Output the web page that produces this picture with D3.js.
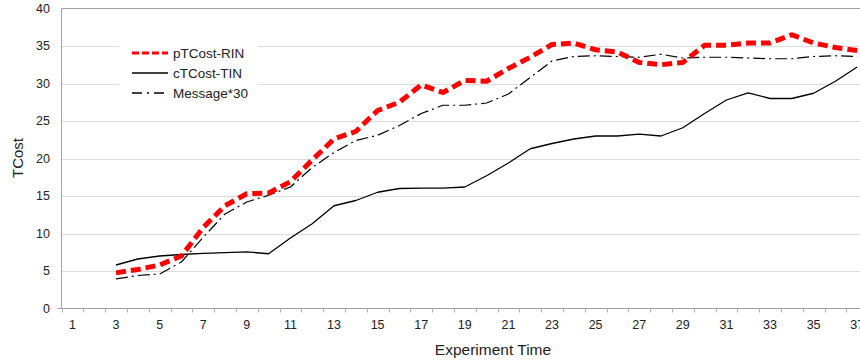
<!DOCTYPE html>
<html>
<head>
<meta charset="utf-8">
<script src="https://cdn.jsdelivr.net/npm/d3@7"></script>
<style>
  html, body { margin: 0; padding: 0; background: #fff; }
  svg { display: block; font-family: "Liberation Sans", Arial, sans-serif; }
</style>
</head>
<body>
<div id="chart"></div>
<script>
// experiment time categories 1..37, series start at 3
const categories = d3.range(1, 38);
const xTickLabels = categories.filter((c) => c % 2 === 1);
const yTicks = [0, 5, 10, 15, 20, 25, 30, 35, 40];
const seriesStart = 3;

const pTCostRIN = [4.75, 5.2, 5.8, 7.0, 10.8, 13.7, 15.3, 15.4, 16.9, 19.8, 22.6, 23.6, 26.4, 27.5, 29.8, 28.8, 30.4, 30.3,
  32.0, 33.5, 35.2, 35.4, 34.5, 34.2, 32.8, 32.5, 32.8, 35.1, 35.1, 35.4, 35.4, 36.5, 35.4, 34.8, 34.4];
const cTCostTIN = [5.8, 6.6, 7.0, 7.2, 7.35, 7.45, 7.55, 7.3, 9.4, 11.3, 13.7, 14.4, 15.5, 16.0, 16.05, 16.05, 16.2, 17.7,
  19.4, 21.3, 22.0, 22.6, 23.0, 23.0, 23.25, 23.0, 24.1, 26.0, 27.8, 28.75, 28.0, 28.0, 28.7, 30.3, 32.2];
const message30 = [3.95, 4.4, 4.6, 6.2, 9.5, 12.6, 14.2, 15.1, 16.2, 18.8, 20.8, 22.4, 23.1, 24.4, 26.0, 27.1, 27.1, 27.4,
  28.6, 30.8, 33.0, 33.6, 33.7, 33.6, 33.5, 33.9, 33.4, 33.5, 33.5, 33.4, 33.3, 33.3, 33.6, 33.7, 33.6];

const seriesNames = ['pTCost-RIN', 'cTCost-TIN', 'Message*30'];

const width = 860;
const height = 362;
const plot = { left: 61.5, top: 8.5, bottom: 308.5, step: 21.8 };

const svg = d3.select('#chart')
  .append('svg')
  .attr('width', width)
  .attr('height', height);

const x = d3.scaleBand()
  .domain(categories)
  .range([plot.left, plot.left + categories.length * plot.step])
  .paddingInner(0)
  .paddingOuter(0);

const y = d3.scaleLinear()
  .domain([0, 40])
  .range([plot.bottom, plot.top]);

const cx = (c) => x(c) + x.bandwidth() / 2;

// gridlines
svg.append('g')
  .selectAll('line')
  .data(yTicks.filter((t) => t > 0 && t < 40))
  .enter()
  .append('line')
    .attr('x1', plot.left)
    .attr('x2', width)
    .attr('y1', (d) => Math.round(y(d)) + 0.5)
    .attr('y2', (d) => Math.round(y(d)) + 0.5)
    .attr('stroke', '#dcdcdc')
    .attr('stroke-width', 1);

// frame: top border + left axis
svg.append('line')
  .attr('x1', plot.left).attr('x2', width)
  .attr('y1', plot.top).attr('y2', plot.top)
  .attr('stroke', '#a0a0a0');
svg.append('line')
  .attr('x1', plot.left).attr('x2', plot.left)
  .attr('y1', plot.top).attr('y2', plot.bottom)
  .attr('stroke', '#a0a0a0');

// y tick labels
svg.append('g')
  .selectAll('text')
  .data(yTicks)
  .enter()
  .append('text')
    .attr('x', 50)
    .attr('y', (d) => y(d))
    .attr('dy', '0.35em')
    .attr('text-anchor', 'end')
    .attr('fill', '#222')
    .style('font-size', '12.5px')
    .text((d) => d);

// x axis
const xAxis = d3.axisBottom(x)
  .tickValues(xTickLabels)
  .tickSize(0)
  .tickPadding(12);
const gx = svg.append('g')
  .attr('transform', `translate(0,${plot.bottom})`)
  .call(xAxis);
gx.select('.domain').attr('stroke', '#a0a0a0').attr('d', `M${plot.left - 4},0H${width}`);
gx.selectAll('text')
  .attr('fill', '#222')
  .style('font-size', '12.5px')
  .style('font-family', '"Liberation Sans", Arial, sans-serif');

// boundary tick marks
svg.append('g')
  .selectAll('line')
  .data(categories)
  .enter()
  .append('line')
    .attr('x1', (d) => Math.round(x(d)) + 0.5)
    .attr('x2', (d) => Math.round(x(d)) + 0.5)
    .attr('y1', plot.bottom)
    .attr('y2', plot.bottom + 4)
    .attr('stroke', '#b0b0b0');

// axis titles
svg.append('text')
  .attr('x', 493)
  .attr('y', 355)
  .attr('text-anchor', 'middle')
  .attr('fill', '#222')
  .style('font-size', '15.5px')
  .text('Experiment Time');

svg.append('text')
  .attr('transform', 'translate(23,158) rotate(-90)')
  .attr('text-anchor', 'middle')
  .attr('fill', '#222')
  .style('font-size', '15px')
  .text('TCost');

// lines
const styles = [
  { values: pTCostRIN, stroke: '#ff0000', width: 5, dash: '10,5', legendWidth: 3, legendDash: '7,3' },
  { values: cTCostTIN, stroke: '#000', width: 1.3, dash: null, legendWidth: 1.3, legendDash: null },
  { values: message30, stroke: '#000', width: 1.2, dash: '12,4,2,4', legendWidth: 1.3, legendDash: '10,5,2,5' },
];

const line = d3.line()
  .x((d) => cx(d.c))
  .y((d) => y(d.v));

// draw solid first, then dash-dot, then red on top
[1, 2, 0].forEach((i) => {
  const s = styles[i];
  const pts = s.values.map((v, k) => ({ c: seriesStart + k, v }));
  svg.append('path')
    .datum(pts)
    .attr('fill', 'none')
    .attr('stroke', s.stroke)
    .attr('stroke-width', s.width)
    .attr('stroke-dasharray', s.dash)
    .attr('stroke-linejoin', 'round')
    .attr('d', line);
});

// legend
const legend = svg.append('g');
legend.append('rect')
  .attr('x', 119).attr('y', 38)
  .attr('width', 139).attr('height', 64)
  .attr('fill', '#fff');

seriesNames.forEach((name, i) => {
  const s = styles[i];
  const ly = 53 + i * 20;
  legend.append('line')
    .attr('x1', 132).attr('x2', 168)
    .attr('y1', ly).attr('y2', ly)
    .attr('stroke', s.stroke)
    .attr('stroke-width', s.legendWidth)
    .attr('stroke-dasharray', s.legendDash);
  legend.append('text')
    .attr('x', 173)
    .attr('y', ly)
    .attr('dy', '0.35em')
    .attr('fill', '#222')
    .style('font-size', '13.5px')
    .text(name);
});
</script>
</body>
</html>
